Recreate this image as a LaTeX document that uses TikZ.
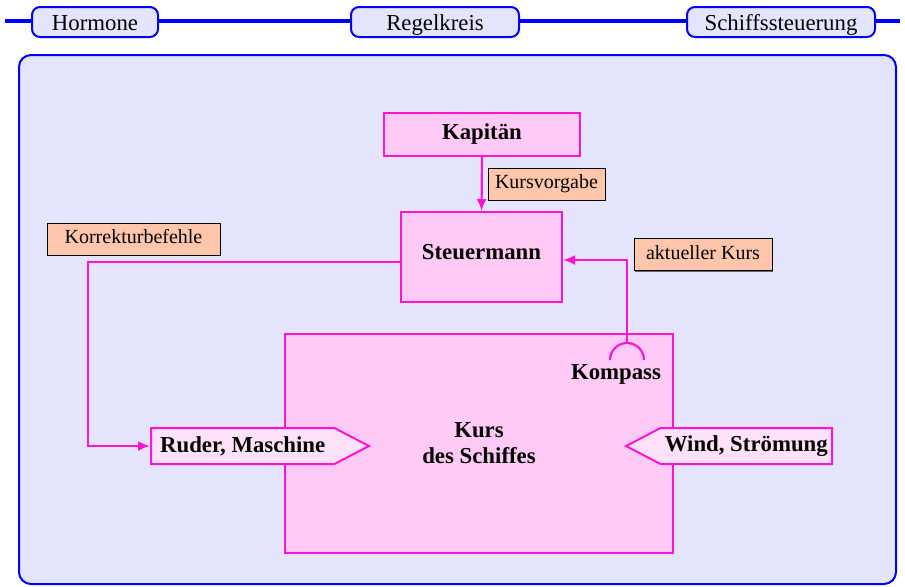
\documentclass[tikz,border=0pt]{standalone}
\usepackage{fontspec}
\setmainfont{Liberation Serif}
\definecolor{rkblue}{RGB}{0,0,255}
\definecolor{rkpanel}{RGB}{228,228,252}
\definecolor{rkmagenta}{RGB}{255,20,210}
\definecolor{rkpink}{RGB}{255,202,245}
\definecolor{rklight}{RGB}{255,226,250}
\definecolor{rksalmon}{RGB}{255,198,172}
\usetikzlibrary{arrows.meta,shapes.symbols,shadows}

\begin{document}
\begin{tikzpicture}[x=0.5pt,y=-0.5pt,
  tab/.style={draw=rkblue,line width=1pt,fill=rkpanel,rounded corners=4pt,minimum height=15pt,inner sep=0pt,text height=9pt,text depth=1pt,font=\fontsize{11.4}{13}\selectfont},
  blockbox/.style={draw=rkmagenta,line width=1pt,fill=rkpink,inner sep=0pt,font=\fontsize{11.4}{13}\selectfont\bfseries,align=center},
  tag/.style={draw=black,line width=0.4pt,fill=rksalmon,minimum height=16pt,inner sep=0pt,text height=7pt,text depth=2.2pt,font=\fontsize{10}{12}\selectfont,drop shadow={shadow xshift=0.7pt,shadow yshift=-0.7pt,fill=black!60,opacity=1}},
  signalbox/.style={signal,draw=rkmagenta,line width=1pt,fill=rklight,minimum height=18pt,minimum width=109pt,inner sep=0pt,signal pointer angle=55,font=\fontsize{11.4}{13}\selectfont\bfseries},
  conn/.style={draw=rkmagenta,line width=1.1pt,-{Latex[length=6pt,width=5pt]}},
  connline/.style={draw=rkmagenta,line width=1.1pt}
]
  \useasboundingbox (0,0) rectangle (905,586);
  % Navigation bar
  \draw[rkblue,line width=1.8pt] (5,21) -- (900,21);
  \node[tab,minimum width=63pt] (hormone) at (95,22) {Hormone};
  \node[tab,minimum width=84pt] (regel) at (435,22) {Regelkreis};
  \node[tab,minimum width=94pt] (schiff) at (781,22) {Schiffssteuerung};
  % Panel
  \draw[rkblue,line width=1pt,fill=rkpanel,rounded corners=6pt] (19,55) rectangle (896,584);
  % Blocks
  \node[blockbox,minimum width=98pt,minimum height=21.5pt] (kapitaen) at (482,134.5) {Kapitän};
  \node[blockbox,minimum width=80.5pt,minimum height=45pt,text height=7.5pt,text depth=5.5pt] (steuer) at (481.5,257) {Steuermann};
  \node[blockbox,minimum width=194pt,minimum height=109.5pt] (kurs) at (479,443.5) {Kurs\\des Schiffes};
  \node[font=\fontsize{11.4}{13}\selectfont\bfseries] (kompass) at (616,374) {Kompass};
  % Inputs
  \node[signalbox,signal to=east,anchor=west] (ruder) at (150,446) {Ruder, Maschine};
  \node[signalbox,signal to=west,anchor=east,minimum width=103pt] (wind) at (833,446) {Wind, Strömung};
  % Labels
  \node[tag,minimum width=58.5pt] (vorgabe) at (546.5,184) {Kursvorgabe};
  \node[tag,minimum width=86.5pt] (korrektur) at (133.5,239) {Korrekturbefehle};
  \node[tag,minimum width=69pt] (aktuell) at (703,254.5) {aktueller Kurs};
  % Connectors
  \coordinate (korrbend) at (88,262);
  \coordinate (kompasstop) at (627,343);
  \draw[conn] (kapitaen.south) -- (steuer.north);
  \draw[conn] ([yshift=-2.5pt]steuer.west) -- (korrbend) |- (ruder.west);
  \draw[connline] (610,360) arc[start angle=180,end angle=360,radius=17];
  \draw[conn] (kompasstop) |- ([yshift=-1.5pt]steuer.east);
\end{tikzpicture}
\end{document}
